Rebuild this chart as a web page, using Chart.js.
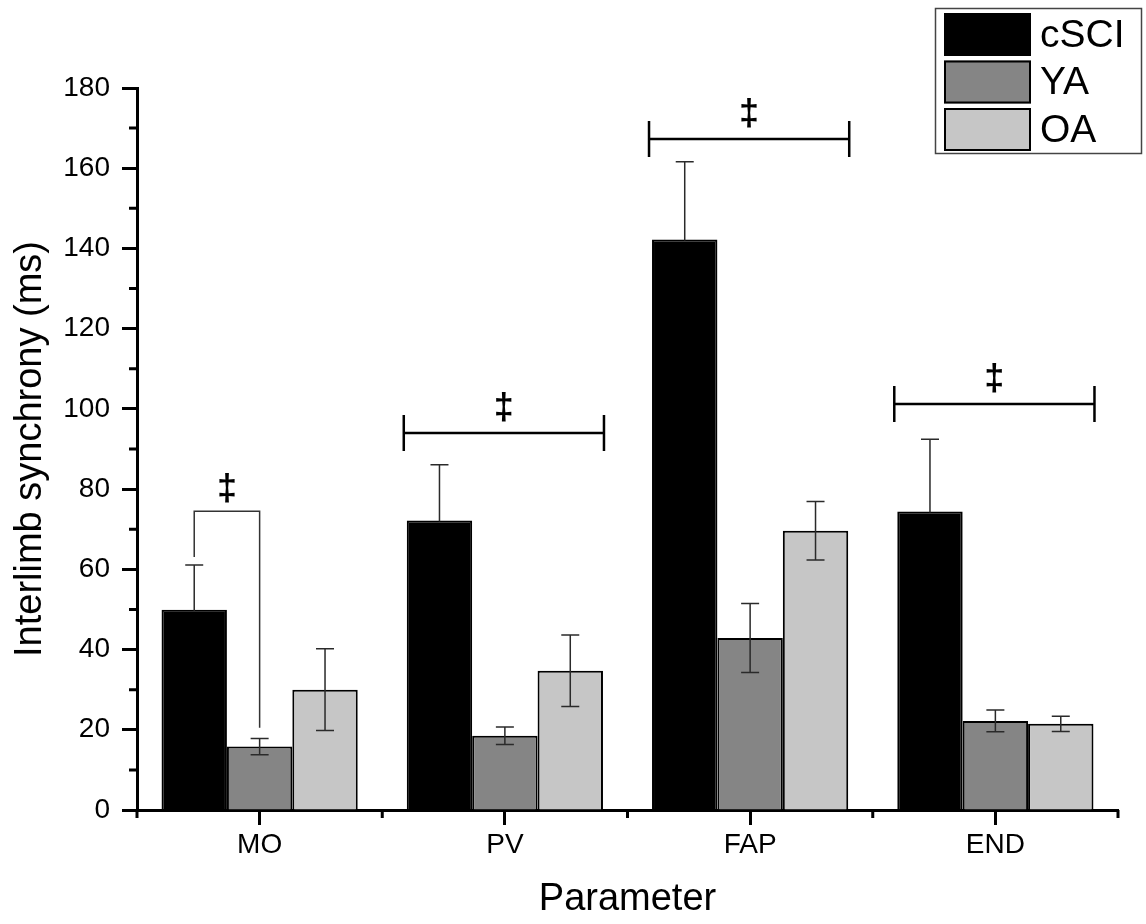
<!DOCTYPE html>
<html><head><meta charset="utf-8">
<script src="https://cdn.jsdelivr.net/npm/chart.js@4.4.1/dist/chart.umd.min.js"></script>
<style>html,body{margin:0;padding:0;background:#fff;}canvas{display:block;}</style>
</head><body>
<canvas id="c" width="1146" height="924"></canvas>
<script>
// ---- data ----
const categories = ['MO', 'PV', 'FAP', 'END'];
const seriesNames = ['cSCI', 'YA', 'OA'];
const cSCI = [49.9, 72.2, 142.2, 74.4];
const YA = [15.8, 18.5, 42.9, 22.2];
const OA = [30.0, 34.7, 69.6, 21.5];
const errCSCI = [11.2, 13.9, 19.4, 18.0];
const errYA = [2.0, 2.2, 8.6, 2.7];
const errOA = [10.2, 8.9, 7.3, 1.9];
const yMin = 0, yMax = 180, yStep = 20, yMinorStep = 10;
const sigMarks = ['\u2021', '\u2021', '\u2021', '\u2021'];
const sigLevels = [74.5, 94.0, 167.3, 101.2];
const moLegEnds = [63.1, 20.5];
const xTitle = 'Parameter';
const yTitle = 'Interlimb synchrony (ms)';

const FONT = "'Liberation Sans', Arial, sans-serif";
const fills = ['#000000', '#858585', '#c6c6c6'];
const seriesData = [cSCI, YA, OA];
const seriesErr = [errCSCI, errYA, errOA];

const extras = {
  id: 'extras',
  afterDatasetsDraw(chart) {
    const ctx = chart.ctx, ys = chart.scales.y;
    ctx.save();
    // error bars
    seriesErr.forEach((errs, di) => {
      const meta = chart.getDatasetMeta(di);
      meta.data.forEach((bar, j) => {
        const v = chart.data.datasets[di].data[j];
        const top = ys.getPixelForValue(v + errs[j]);
        const bot = ys.getPixelForValue(v - errs[j]);
        ctx.strokeStyle = '#2a2a2a';
        ctx.lineWidth = 1.5;
        ctx.beginPath();
        ctx.moveTo(bar.x - 9, top); ctx.lineTo(bar.x + 9, top);
        if (di === 0) {
          ctx.moveTo(bar.x, top); ctx.lineTo(bar.x, bar.y + 1);
        } else {
          ctx.moveTo(bar.x, top); ctx.lineTo(bar.x, bot);
          ctx.moveTo(bar.x - 9, bot); ctx.lineTo(bar.x + 9, bot);
        }
        ctx.stroke();
      });
    });
    // significance brackets
    const m0 = chart.getDatasetMeta(0), m1 = chart.getDatasetMeta(1), m2 = chart.getDatasetMeta(2);
    ctx.fillStyle = '#000';
    ctx.font = 'bold 36px ' + FONT;
    ctx.textAlign = 'center';
    ctx.textBaseline = 'bottom';
    categories.forEach((c, j) => {
      const ly = ys.getPixelForValue(sigLevels[j]);
      if (j === 0) {
        const xl = m0.data[j].x, xr = m1.data[j].x;
        ctx.strokeStyle = '#333';
        ctx.lineWidth = 1.5;
        ctx.beginPath();
        ctx.moveTo(xl, ys.getPixelForValue(moLegEnds[0]));
        ctx.lineTo(xl, ly);
        ctx.lineTo(xr, ly);
        ctx.lineTo(xr, ys.getPixelForValue(moLegEnds[1]));
        ctx.stroke();
        ctx.fillText(sigMarks[j], (xl + xr) / 2, ly - 3);
      } else {
        const xl = m0.data[j].x - m0.data[j].width / 2 - 3;
        const xr = m2.data[j].x + m2.data[j].width / 2 + 1;
        ctx.strokeStyle = '#000';
        ctx.lineWidth = 2.5;
        ctx.beginPath();
        ctx.moveTo(xl, ly); ctx.lineTo(xr, ly);
        ctx.moveTo(xl, ly - 18); ctx.lineTo(xl, ly + 18);
        ctx.moveTo(xr, ly - 18); ctx.lineTo(xr, ly + 18);
        ctx.stroke();
        ctx.fillText(sigMarks[j], (xl + xr) / 2, ly - 6);
      }
    });
    ctx.restore();
  },
  afterDraw(chart) {
    const ctx = chart.ctx, ys = chart.scales.y, xs = chart.scales.x, ca = chart.chartArea;
    ctx.save();
    ctx.strokeStyle = '#000';
    ctx.lineWidth = 3;
    ctx.beginPath();
    // minor y ticks
    for (let v = yMin + yMinorStep; v < yMax; v += yStep) {
      const py = ys.getPixelForValue(v);
      ctx.moveTo(ca.left - 8, py); ctx.lineTo(ca.left, py);
    }
    // minor x ticks at category boundaries
    for (let k = 0; k <= categories.length; k++) {
      const px = xs.getPixelForValue(k - 0.5);
      ctx.moveTo(px, ca.bottom); ctx.lineTo(px, ca.bottom + 8);
    }
    ctx.stroke();
    // legend
    ctx.strokeStyle = '#444';
    ctx.lineWidth = 1.5;
    ctx.strokeRect(935.5, 8.5, 206, 145);
    const rowsY = [13, 60.5, 108];
    chart.data.datasets.forEach((ds, i) => {
      ctx.fillStyle = ds.backgroundColor;
      ctx.fillRect(944, rowsY[i], 87, 43);
      ctx.strokeStyle = '#000';
      ctx.lineWidth = 2;
      ctx.strokeRect(945, rowsY[i] + 1, 85, 41);
      ctx.fillStyle = '#000';
      ctx.font = '39px ' + FONT;
      ctx.textAlign = 'left';
      ctx.textBaseline = 'middle';
      ctx.fillText(ds.label, 1040, rowsY[i] + 23);
    });
    ctx.restore();
  }
};

new Chart(document.getElementById('c'), {
  type: 'bar',
  data: {
    labels: categories,
    datasets: seriesNames.map((n, i) => ({
      label: n, data: seriesData[i], backgroundColor: fills[i],
      borderColor: '#000', borderWidth: 2
    }))
  },
  options: {
    responsive: false, animation: false, devicePixelRatio: 1,
    layout: { padding: { left: 0, right: 28, top: 88, bottom: 0 } },
    plugins: { legend: { display: false }, tooltip: { enabled: false } },
    datasets: { bar: { categoryPercentage: 0.8, barPercentage: 1.0 } },
    scales: {
      x: {
        z: 1,
        grid: { display: true, drawOnChartArea: false, offset: false, tickLength: 15, tickWidth: 3, tickColor: '#000', color: '#000' },
        border: { display: true, color: '#000', width: 3 },
        ticks: { font: { family: FONT, size: 28 }, color: '#000', padding: 3 },
        title: { display: true, text: xTitle, font: { family: FONT, size: 38 }, color: '#000', padding: { top: 0, bottom: 2 } },
        afterFit(s) { s.height = 114; }
      },
      y: {
        min: yMin, max: yMax,
        ticks: { stepSize: yStep, font: { family: FONT, size: 28 }, color: '#000', padding: 12 },
        grid: { display: true, drawOnChartArea: false, tickLength: 15, tickWidth: 3, tickColor: '#000', color: '#000' },
        border: { display: true, color: '#000', width: 3 },
        title: { display: true, text: yTitle, font: { family: FONT, size: 38 }, color: '#000', padding: { top: 8, bottom: 0 } },
        afterFit(s) { s.width = 137; }
      }
    }
  },
  plugins: [extras]
});
</script>
</body></html>
